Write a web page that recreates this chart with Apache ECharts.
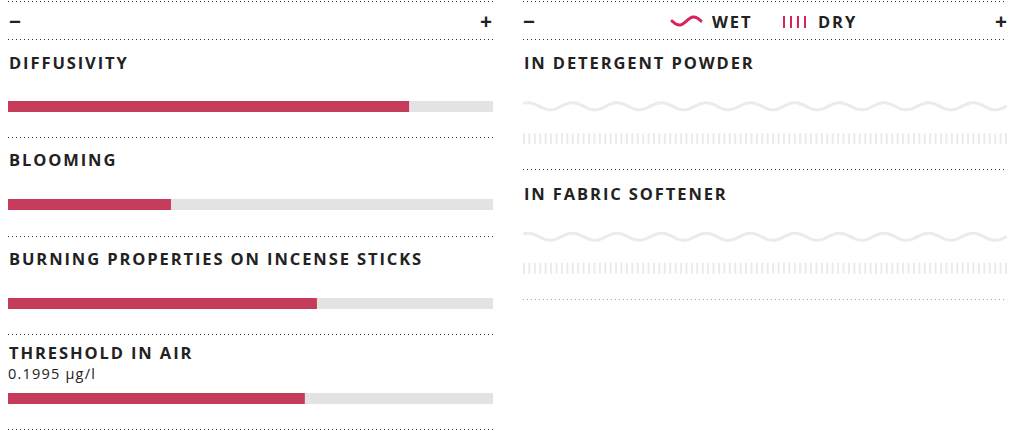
<!DOCTYPE html>
<html><head><meta charset="utf-8">
<script src="https://cdn.jsdelivr.net/npm/echarts@6/dist/echarts.min.js"></script>
<style>
html,body{margin:0;padding:0;background:#fff;}
#main{width:1010px;height:433px;position:relative;}
#main svg text{letter-spacing:1.2px;}
#main svg text[style*="bold"]{letter-spacing:1.9px;}
</style></head><body><div id="main"></div>
<script>
// ---- data ----
const scaleTicks = ['−', '+'];
const propertyNames = ['DIFFUSIVITY', 'BLOOMING', 'BURNING PROPERTIES ON INCENSE STICKS', 'THRESHOLD IN AIR'];
const propertyValues = [8.27, 3.36, 6.37, 6.12];
const propertyNotes = ['', '', '', '0.1995 µg/l'];
const usageNames = ['IN DETERGENT POWDER', 'IN FABRIC SOFTENER'];
const usageStates = ['WET', 'DRY'];
const wetValues = [0, 0];
const dryValues = [0, 0];
const scaleMax = 10;

// ---- layout / style ----
const L0 = 8, L1 = 493, R0 = 523, R1 = 1007;
const barTops = [101, 199, 298, 393];
const labelYs = [62, 159, 258, 352];
const noteY = 373.5;
const leftRules = [1.5, 39.5, 137.5, 236.5, 334.5, 429.5];
const rightRules = [1.5, 39.5, 169.5];
const rightLightRule = 299.5;
const usageLabelYs = [62, 193];
const usageGrid = [{top: 90, height: 65}, {top: 221, height: 63}];
const RED = '#c63a5a', TRACK = '#e3e3e3', PALE = '#ebebeb', ICON = '#d9245b', INK = '#222';
const LABEL_FONT = 'bold 16.5px "Open Sans"';

const chart = echarts.init(document.getElementById('main'), null, {renderer: 'svg'});

const grid = [], xAxis = [], yAxis = [], series = [], graphic = [];

propertyNames.forEach((name, i) => {
  grid.push({left: L0, top: barTops[i], width: L1 - L0, height: 11});
  xAxis.push({type: 'value', gridIndex: i, min: 0, max: scaleMax, show: false});
  yAxis.push({type: 'category', gridIndex: i, data: [name], show: false});
  series.push({
    type: 'bar', xAxisIndex: i, yAxisIndex: i, data: [propertyValues[i]],
    barWidth: 11, showBackground: true, backgroundStyle: {color: TRACK},
    itemStyle: {color: RED}, silent: true, animation: false
  });
  graphic.push({type: 'text', x: L0 + 1, y: labelYs[i], silent: true,
    style: {text: name, font: LABEL_FONT, fill: INK, textVerticalAlign: 'middle'}});
  if (propertyNotes[i]) {
    graphic.push({type: 'text', x: L0, y: noteY, silent: true,
      style: {text: propertyNotes[i], font: '14.5px "Open Sans"', fill: INK, textVerticalAlign: 'middle'}});
  }
});

function renderUsage(params, api) {
  const v = api.value(0), c = api.value(1);
  const s = api.coord([0, c]), e = api.coord([scaleMax, c]), m = api.coord([v, c]);
  const children = [];
  if (c === 0) {
    const P = 44.5, A = 3.5, phase = 5;
    const wave = (xa, xb) => {
      const pts = [];
      for (let x = xa; x < xb; x += 1) pts.push([x, s[1] - A * Math.cos(2 * Math.PI * (x - s[0] - phase) / P)]);
      pts.push([xb, s[1] - A * Math.cos(2 * Math.PI * (xb - s[0] - phase) / P)]);
      return pts;
    };
    children.push({type: 'polyline', shape: {points: wave(s[0] + 1.5, e[0] - 1.5)},
      style: {stroke: PALE, lineWidth: 3, fill: null, lineCap: 'round'}});
    if (m[0] > s[0] + 2) {
      children.push({type: 'polyline', shape: {points: wave(s[0] + 1.5, m[0])},
        style: {stroke: RED, lineWidth: 3, fill: null, lineCap: 'round'}});
    }
  } else {
    const w = 2, span = e[0] - s[0] - w;
    const n = Math.round(span / 5.4) + 1, step = span / (n - 1);
    for (let k = 0; k < n; k++) {
      const x = s[0] + k * step;
      children.push({type: 'rect', shape: {x: x, y: s[1] - 5.5, width: w, height: 11},
        style: {fill: x + w <= m[0] ? RED : PALE}});
    }
  }
  return {type: 'group', children};
}

usageNames.forEach((name, j) => {
  const gi = propertyNames.length + j;
  grid.push({left: R0, width: R1 - R0, top: usageGrid[j].top, height: usageGrid[j].height});
  xAxis.push({type: 'value', gridIndex: gi, min: 0, max: scaleMax, show: false});
  yAxis.push({type: 'category', gridIndex: gi, data: usageStates, inverse: true, show: false});
  series.push({
    type: 'custom', xAxisIndex: gi, yAxisIndex: gi, silent: true, animation: false,
    encode: {x: 0, y: 1},
    data: [[wetValues[j], 0], [dryValues[j], 1]],
    renderItem: renderUsage
  });
  graphic.push({type: 'text', x: R0 + 1, y: usageLabelYs[j], silent: true,
    style: {text: name, font: LABEL_FONT, fill: INK, textVerticalAlign: 'middle'}});
});

// rules
const rule = (x1, x2, y, color) => ({type: 'line', silent: true,
  shape: {x1, y1: y, x2, y2: y}, style: {stroke: color, lineWidth: 1, lineDash: [1, 3]}});
leftRules.forEach(y => graphic.push(rule(L0, L1, y, '#333')));
rightRules.forEach(y => graphic.push(rule(R0, R1, y, '#333')));
graphic.push(rule(R0, R1, rightLightRule, '#aaa'));

// header ticks
const tickFont = 'bold 21px "Open Sans"';
[[L0 + 1, L1 - 13], [R0, R1 - 12]].forEach(([a, b]) => {
  graphic.push({type: 'text', x: a, y: 21, silent: true, style: {text: scaleTicks[0], font: tickFont, fill: INK, textVerticalAlign: 'middle'}});
  graphic.push({type: 'text', x: b, y: 21, silent: true, style: {text: scaleTicks[1], font: tickFont, fill: INK, textVerticalAlign: 'middle'}});
});

// legend
const iconPts = [];
for (let t = 0; t <= 29; t += 1) iconPts.push([672 + t, 21 + 4 * Math.sin(2 * Math.PI * t / 29)]);
graphic.push({type: 'polyline', silent: true, shape: {points: iconPts},
  style: {stroke: ICON, lineWidth: 3, fill: null, lineCap: 'round'}});
graphic.push({type: 'text', x: 712, y: 21, silent: true, style: {text: usageStates[0], font: LABEL_FONT, fill: INK, textVerticalAlign: 'middle'}});
for (let k = 0; k < 4; k++) {
  graphic.push({type: 'rect', silent: true, shape: {x: 783 + k * 7, y: 16, width: 2, height: 12}, style: {fill: ICON}});
}
graphic.push({type: 'text', x: 818, y: 21, silent: true, style: {text: usageStates[1], font: LABEL_FONT, fill: INK, textVerticalAlign: 'middle'}});

chart.setOption({animation: false, grid, xAxis, yAxis, series, graphic});
</script></body></html>
